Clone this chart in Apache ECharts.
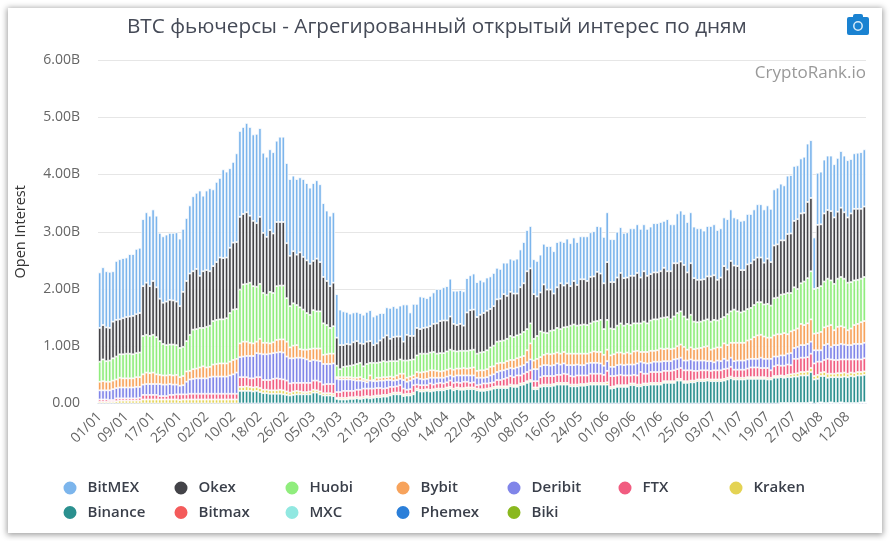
<!DOCTYPE html>
<html>
<head>
<meta charset="utf-8">
<script src="https://cdn.jsdelivr.net/npm/echarts@6/dist/echarts.min.js"></script>
<style>
html, body { margin: 0; padding: 0; background: #fff; width: 890px; height: 541px; overflow: hidden; }
#graph { position: absolute; left: 8px; top: 8px; width: 874px; height: 525px; background: #fff; box-shadow: 0 1px 6px 1px rgba(0,0,0,.38); }
</style>
</head>
<body>
<div id="graph"></div>
<script>
// days in 2020, 01/01 .. 17/08
var monthLengths = [31, 29, 31, 30, 31, 30, 31, 17];

// stack levels, in billions: the top edge of each coloured band per day
var bitmexTop = [
2.29,2.38,2.31,2.30,2.31,2.49,2.52,2.54,2.55,2.61,
2.61,2.70,2.72,3.22,3.34,3.28,3.39,3.28,2.98,2.92,
2.95,2.98,2.98,2.99,2.88,3.05,3.24,3.46,3.62,3.68,
3.72,3.63,3.72,3.76,3.74,3.87,3.94,4.09,4.05,4.11,
4.22,4.37,4.76,4.83,4.90,4.83,4.70,4.71,4.81,4.38,
4.31,4.44,4.39,4.59,4.66,4.66,4.20,3.92,3.98,3.92,
3.95,3.92,3.85,3.77,3.85,3.90,3.83,3.50,3.37,3.28,
3.34,1.91,1.64,1.61,1.60,1.57,1.59,1.60,1.58,1.55,
1.60,1.63,1.52,1.55,1.58,1.58,1.68,1.67,1.70,1.67,
1.71,1.73,1.73,1.59,1.74,1.74,1.87,1.86,1.84,1.88,
1.94,2.00,2.00,2.03,2.05,2.18,1.97,1.97,1.98,1.96,
2.19,2.24,2.27,2.12,2.16,2.13,2.20,2.22,2.28,2.37,
2.35,2.46,2.46,2.53,2.51,2.53,2.69,2.82,3.03,3.10,
2.52,2.49,2.60,2.79,2.75,2.75,2.66,2.82,2.84,2.82,
2.88,2.80,2.90,2.82,2.92,2.92,2.92,2.99,3.01,3.10,
3.09,2.91,3.34,2.87,2.87,3.00,3.08,2.98,2.99,3.06,
3.06,3.13,3.05,3.13,3.05,3.09,3.15,3.15,3.17,3.19,
3.22,3.13,3.13,3.32,3.37,3.31,3.17,3.34,3.09,3.06,
3.06,3.02,3.10,3.10,3.13,3.03,3.06,3.25,3.22,3.39,
3.25,3.23,3.19,3.20,3.31,3.31,3.39,3.48,3.48,3.39,
3.46,3.40,3.74,3.77,3.84,3.81,3.98,3.99,4.15,4.16,
4.28,4.31,4.54,4.60,2.90,4.03,4.05,4.26,4.33,4.33,
4.18,4.29,4.41,4.33,4.25,4.27,4.37,4.38,4.39,4.44];

var okexTop = [
1.32,1.37,1.33,1.32,1.43,1.46,1.47,1.49,1.51,1.52,
1.53,1.56,1.58,2.05,2.11,2.05,2.14,2.03,1.83,1.76,
1.78,1.81,1.80,1.78,1.70,1.95,2.14,2.27,2.31,2.35,
2.23,2.31,2.33,2.31,2.40,2.47,2.55,2.54,2.55,2.72,
2.81,2.82,3.26,3.31,3.34,3.28,3.19,3.15,3.26,2.98,
2.91,3.03,2.97,3.17,3.17,3.17,2.80,2.58,2.66,2.60,
2.64,2.56,2.50,2.44,2.49,2.53,2.47,2.21,2.14,2.05,
2.11,1.15,1.02,1.02,1.04,1.03,1.07,1.09,1.05,1.04,
1.08,1.09,1.02,1.05,1.10,1.15,1.19,1.13,1.16,1.17,
1.17,1.08,1.20,1.18,1.18,1.32,1.30,1.32,1.33,1.35,
1.39,1.40,1.44,1.45,1.45,1.52,1.39,1.37,1.39,1.36,
1.59,1.63,1.64,1.51,1.55,1.58,1.62,1.65,1.70,1.82,
1.83,1.91,1.88,1.95,1.92,1.92,2.03,2.10,2.31,2.36,
1.91,1.87,1.94,2.08,1.99,1.99,1.92,2.03,2.10,2.06,
2.10,2.05,2.14,2.07,2.17,2.17,2.14,2.21,2.22,2.30,
2.27,2.10,2.47,2.12,2.12,2.20,2.28,2.19,2.20,2.23,
2.23,2.28,2.20,2.31,2.23,2.26,2.29,2.29,2.31,2.37,
2.31,2.31,2.45,2.45,2.48,2.42,2.29,2.45,2.19,2.16,
2.16,2.17,2.22,2.22,2.24,2.16,2.20,2.40,2.34,2.49,
2.41,2.40,2.33,2.33,2.43,2.45,2.51,2.55,2.55,2.46,
2.53,2.47,2.76,2.78,2.85,2.85,2.96,2.97,3.19,3.22,
3.32,3.33,3.52,3.59,2.00,3.12,3.13,3.32,3.38,3.36,
3.25,3.35,3.42,3.34,3.25,3.32,3.40,3.40,3.40,3.44];

var huobiTop = [
.73,.77,.74,.75,.79,.82,.86,.86,.87,.87,
.86,.88,.89,1.18,1.20,1.18,1.20,1.16,1.09,1.04,
1.02,1.03,1.03,1.02,.97,.99,1.09,1.20,1.29,1.30,
1.32,1.32,1.34,1.36,1.44,1.46,1.47,1.47,1.49,1.58,
1.64,1.65,1.99,2.08,2.09,2.11,2.05,2.04,2.09,1.93,
1.90,1.95,1.93,2.05,2.06,2.06,1.84,1.70,1.75,1.72,
1.68,1.64,1.58,1.55,1.63,1.61,1.61,1.40,1.37,1.32,
1.35,.66,.60,.64,.65,.66,.67,.69,.71,.65,
.69,.71,.71,.71,.72,.74,.73,.74,.74,.74,
.77,.75,.75,.76,.77,.84,.87,.87,.87,.89,
.90,.87,.88,.88,.91,.94,.92,.91,.92,.92,
.92,.93,.94,.87,.89,.90,.93,.98,1.01,1.08,
1.09,1.10,1.13,1.18,1.16,1.19,1.21,1.25,1.30,1.40,
1.13,1.18,1.26,1.24,1.23,1.27,1.28,1.32,1.30,1.33,
1.34,1.36,1.38,1.36,1.37,1.38,1.37,1.40,1.43,1.44,
1.46,1.30,1.46,1.31,1.30,1.36,1.40,1.36,1.39,1.37,
1.40,1.40,1.40,1.43,1.40,1.45,1.47,1.47,1.49,1.50,
1.51,1.47,1.52,1.58,1.61,1.52,1.47,1.55,1.43,1.42,
1.43,1.45,1.47,1.43,1.46,1.45,1.48,1.51,1.56,1.61,
1.64,1.61,1.59,1.61,1.65,1.67,1.72,1.77,1.77,1.73,
1.74,1.71,1.84,1.85,1.90,1.91,1.93,1.93,2.03,2.00,
2.10,2.13,2.19,2.31,2.00,2.02,2.05,2.13,2.18,2.15,
2.09,2.18,2.21,2.18,2.11,2.12,2.15,2.16,2.18,2.21];

var bybitTop = [
.38,.39,.38,.38,.40,.42,.45,.44,.44,.44,
.44,.46,.46,.51,.54,.53,.54,.51,.50,.49,
.49,.50,.49,.50,.46,.48,.56,.57,.60,.61,
.63,.65,.63,.64,.68,.69,.70,.70,.70,.73,
.76,.78,1.05,1.08,1.08,1.06,1.05,1.08,1.13,1.06,
1.06,1.05,1.07,1.11,1.12,1.12,1.08,.98,1.01,1.02,
.95,.94,.94,.95,.96,.96,.96,.85,.86,.87,
.87,.46,.46,.46,.46,.46,.45,.45,.46,.43,
.41,.49,.41,.45,.45,.46,.46,.47,.46,.49,
.52,.52,.45,.47,.49,.55,.54,.55,.56,.58,
.58,.57,.56,.57,.59,.61,.59,.61,.61,.62,
.61,.62,.63,.57,.58,.58,.60,.64,.65,.70,
.71,.71,.74,.76,.76,.79,.81,.83,.93,1.05,
.75,.78,.81,.85,.87,.86,.87,.89,.87,.90,
.87,.87,.87,.87,.87,.87,.87,.89,.91,.90,
.90,.85,.94,.84,.86,.89,.89,.87,.89,.87,
.91,.92,.90,.90,.90,.92,.92,.93,.96,.95,
.96,.95,.96,1.00,1.03,.99,.94,.98,.95,.96,
.97,.99,1.00,.94,.96,.98,.98,1.05,1.02,1.06,
1.06,1.06,1.06,1.06,1.10,1.12,1.16,1.19,1.20,1.17,
1.15,1.15,1.19,1.21,1.21,1.23,1.21,1.26,1.28,1.31,
1.39,1.37,1.40,1.47,1.22,1.23,1.25,1.33,1.35,1.37,
1.28,1.34,1.35,1.33,1.28,1.31,1.37,1.39,1.42,1.44];

var deribitTop = [
.23,.23,.23,.23,.25,.27,.28,.28,.28,.28,
.28,.29,.29,.33,.34,.34,.34,.34,.34,.33,
.33,.34,.33,.33,.31,.32,.38,.42,.43,.44,
.44,.44,.44,.46,.47,.47,.47,.47,.47,.49,
.51,.54,.81,.82,.83,.83,.83,.88,.87,.86,
.86,.87,.88,.89,.90,.89,.82,.79,.79,.80,
.80,.79,.77,.74,.76,.75,.74,.69,.69,.69,
.70,.43,.42,.42,.42,.42,.41,.40,.40,.39,
.37,.40,.39,.39,.40,.40,.41,.41,.40,.41,
.43,.41,.38,.40,.43,.45,.43,.42,.43,.45,
.45,.45,.45,.45,.47,.49,.47,.49,.49,.49,
.49,.49,.49,.45,.45,.45,.46,.49,.51,.55,
.57,.58,.60,.62,.61,.63,.65,.67,.72,.77,
.60,.60,.65,.67,.67,.66,.67,.70,.68,.70,
.67,.67,.67,.68,.67,.67,.70,.71,.71,.71,
.70,.66,.74,.64,.64,.67,.68,.67,.68,.68,
.68,.70,.73,.71,.70,.71,.73,.73,.73,.74,
.74,.74,.77,.78,.80,.75,.75,.77,.75,.75,
.75,.75,.74,.74,.72,.75,.74,.78,.75,.80,
.74,.75,.75,.75,.77,.78,.78,.78,.80,.78,
.78,.78,.82,.82,.84,.84,.87,.88,.97,.99,
1.02,1.02,1.04,1.08,.93,.93,.93,1.02,1.04,.99,
1.02,1.02,1.04,1.03,1.02,1.02,1.04,1.04,1.04,1.06];

var ftxTop = [
.07,.07,.07,.06,.06,.09,.09,.09,.09,.09,
.09,.09,.10,.15,.15,.15,.15,.15,.13,.13,
.13,.15,.15,.16,.16,.16,.16,.17,.17,.17,
.17,.17,.17,.17,.17,.17,.17,.17,.17,.17,
.17,.17,.46,.46,.46,.44,.44,.46,.46,.41,
.41,.41,.43,.44,.43,.42,.40,.35,.36,.36,
.36,.36,.36,.36,.40,.40,.38,.33,.34,.34,
.34,.20,.20,.22,.22,.22,.22,.24,.24,.26,
.26,.26,.26,.27,.27,.26,.27,.29,.29,.30,
.32,.26,.24,.25,.32,.33,.32,.32,.32,.35,
.33,.35,.36,.35,.37,.40,.36,.37,.36,.38,
.38,.36,.37,.32,.33,.35,.35,.36,.37,.41,
.41,.43,.45,.48,.46,.49,.49,.52,.55,.58,
.39,.39,.46,.48,.48,.48,.48,.50,.50,.52,
.51,.48,.47,.49,.49,.49,.49,.52,.52,.52,
.52,.50,.57,.48,.48,.49,.50,.49,.49,.49,
.50,.49,.55,.52,.52,.55,.55,.55,.55,.57,
.57,.57,.58,.60,.62,.58,.58,.58,.57,.57,
.58,.58,.58,.57,.58,.58,.58,.60,.61,.64,
.59,.59,.59,.59,.61,.63,.63,.63,.62,.62,
.62,.58,.65,.67,.66,.66,.68,.67,.78,.78,
.80,.80,.81,.87,.70,.73,.73,.76,.78,.77,
.76,.76,.77,.77,.77,.77,.77,.77,.77,.79];

var krakenTop = [
.03,.03,.03,.03,.03,.04,.05,.05,.05,.05,
.05,.05,.05,.07,.07,.07,.07,.07,.07,.07,
.07,.07,.07,.07,.06,.07,.07,.07,.07,.07,
.07,.07,.07,.07,.07,.07,.07,.07,.07,.07,
.07,.07,.29,.29,.30,.29,.28,.29,.27,.24,
.24,.23,.23,.23,.24,.23,.21,.19,.21,.22,
.21,.20,.20,.21,.24,.23,.21,.18,.18,.18,
.17,.10,.10,.10,.10,.11,.11,.12,.11,.12,
.13,.12,.13,.14,.14,.15,.15,.17,.19,.19,
.19,.16,.17,.17,.19,.26,.24,.24,.25,.24,
.25,.26,.26,.26,.28,.29,.26,.28,.27,.27,
.28,.28,.28,.26,.25,.25,.26,.27,.29,.30,
.30,.30,.30,.33,.32,.32,.35,.36,.39,.41,
.28,.28,.32,.33,.33,.33,.34,.36,.36,.36,
.36,.33,.33,.33,.34,.34,.35,.36,.36,.36,
.36,.36,.37,.29,.30,.32,.32,.32,.32,.35,
.35,.33,.33,.35,.35,.36,.36,.36,.36,.39,
.39,.39,.39,.43,.43,.39,.39,.40,.40,.42,
.42,.42,.43,.42,.42,.42,.42,.43,.45,.47,
.45,.45,.45,.45,.46,.46,.46,.46,.46,.46,
.45,.45,.48,.48,.49,.48,.50,.51,.52,.53,
.55,.55,.56,.62,.48,.50,.54,.55,.52,.52,
.52,.53,.53,.54,.52,.54,.53,.55,.55,.56];

var binanceTop = [
0,0,0,0,0,0,0,0,0,0,
0,0,0,0,0,0,0,0,0,0,
0,0,0,0,0,0,0,0,0,0,
0,0,0,0,0,0,0,0,0,0,
0,0,.22,.22,.22,.22,.21,.22,.20,.18,
.18,.17,.17,.17,.17,.16,.15,.14,.15,.16,
.16,.16,.16,.16,.19,.19,.16,.14,.14,.14,
.13,.08,.07,.07,.07,.08,.08,.09,.08,.09,
.10,.09,.10,.11,.11,.12,.12,.14,.16,.16,
.16,.13,.14,.14,.16,.23,.21,.21,.22,.21,
.22,.23,.23,.23,.25,.26,.23,.25,.24,.24,
.25,.25,.25,.23,.22,.22,.23,.24,.26,.27,
.27,.27,.27,.30,.29,.29,.32,.33,.36,.38,
.25,.25,.29,.30,.30,.30,.31,.33,.33,.33,
.33,.30,.30,.30,.31,.31,.32,.33,.33,.33,
.33,.33,.33,.26,.27,.29,.29,.29,.29,.32,
.32,.30,.30,.32,.32,.33,.33,.33,.33,.36,
.36,.36,.36,.40,.40,.36,.36,.37,.37,.39,
.39,.39,.40,.39,.39,.39,.39,.40,.42,.44,
.42,.42,.42,.42,.43,.43,.43,.43,.43,.43,
.42,.42,.45,.45,.46,.45,.46,.46,.47,.47,
.49,.49,.49,.55,.42,.43,.48,.48,.45,.46,
.46,.46,.46,.47,.46,.48,.47,.49,.49,.50];

// the small exchanges only show on a few days: [day index, value]
var bitmaxDays = [[204,.008],[205,.008],[206,.008],[207,.008],[208,.008],[209,.008],[210,.008],[211,.008],[212,.008],[213,.008],
  [215,.008],[216,.008],[217,.008],[218,.008],[219,.008],[220,.008],[221,.008],[222,.008],[223,.008],[224,.008],[225,.008],[226,.008],[227,.008],[228,.008],[229,.008]];
var mxcDays = [];
var phemexDays = [[213,.012],[216,.012],[219,.012],[222,.012],[228,.012],[229,.012]];
var bikiDays = [];

var colors = {
  BitMEX: '#7cb5ec', Okex: '#434348', Huobi: '#90ed7d', Bybit: '#f7a35c', Deribit: '#8085e9', FTX: '#f15c80',
  Kraken: '#e4d354', Binance: '#2b908f', Bitmax: '#f45b5b', MXC: '#91e8e1', Phemex: '#2b7fd9', Biki: '#8ab81e'
};
// one legend per column, the reference lines its entries up in a table
var legendColumns = [['BitMEX', 'Binance'], ['Okex', 'Bitmax'], ['Huobi', 'MXC'], ['Bybit', 'Phemex'], ['Deribit', 'Biki'], ['FTX'], ['Kraken']];

var categories = [];
monthLengths.forEach(function (len, m) {
  for (var d = 1; d <= len; d++) {
    categories.push((d < 10 ? '0' : '') + d + '/0' + (m + 1));
  }
});

function sparse(days) {
  var out = categories.map(function () { return null; });
  days.forEach(function (p) { out[p[0]] = p[1]; });
  return out;
}

function band(top, below) {
  return top.map(function (v, i) {
    var d = +(v - below[i]).toFixed(3);
    return d > 0 ? d : null;
  });
}

var bitmaxValues = sparse(bitmaxDays);
var mxcValues = sparse(mxcDays);
var phemexValues = sparse(phemexDays);
var bikiValues = sparse(bikiDays);
var smallTop = categories.map(function (c, i) {
  return (bitmaxValues[i] || 0) + (mxcValues[i] || 0) + (phemexValues[i] || 0) + (bikiValues[i] || 0);
});

// bottom of the stack first
var stackData = [
  ['Biki', bikiValues],
  ['Phemex', phemexValues],
  ['MXC', mxcValues],
  ['Bitmax', bitmaxValues],
  ['Binance', band(binanceTop, smallTop)],
  ['Kraken', band(krakenTop, binanceTop)],
  ['FTX', band(ftxTop, krakenTop)],
  ['Deribit', band(deribitTop, ftxTop)],
  ['Bybit', band(bybitTop, deribitTop)],
  ['Huobi', band(huobiTop, bybitTop)],
  ['Okex', band(okexTop, huobiTop)],
  ['BitMEX', band(bitmexTop, okexTop)]
];

var fontName = '"Open Sans", sans-serif';
var myChart = echarts.init(document.getElementById('graph'));

var option = {
  animation: false,
  title: {
    text: 'BTC фьючерсы - Агрегированный открытый интерес по дням',
    left: 114,
    top: 4,
    textStyle: { fontFamily: fontName, fontSize: 20.7, fontWeight: 'normal', color: '#454a57' }
  },
  grid: { left: 90, right: 16, top: 52, bottom: 129.5, outerBoundsMode: 'none' },
  legend: legendColumns.map(function (col, k) {
    return {
      data: col,
      orient: 'vertical',
      left: 53.5 + 111 * k,
      top: 471.5,
      icon: 'circle',
      itemWidth: 15,
      itemHeight: 15,
      itemGap: 7.5,
      padding: 0,
      textStyle: { fontFamily: fontName, fontSize: 15, fontWeight: 600, color: '#3a3f4a', padding: [0, 0, 0, 5] }
    };
  }),
  xAxis: {
    type: 'category',
    data: categories,
    axisLine: { lineStyle: { color: '#ccd6eb' } },
    axisTick: { show: false },
    axisLabel: { interval: 7, rotate: 45, margin: 11, color: '#666', fontSize: 14, fontFamily: fontName }
  },
  yAxis: {
    type: 'value',
    min: 0,
    max: 6,
    interval: 1,
    name: 'Open Interest',
    nameLocation: 'middle',
    nameRotate: 90,
    nameGap: 70,
    nameTextStyle: { color: '#333', fontSize: 14.5, fontFamily: fontName },
    axisLabel: {
      margin: 18,
      color: '#666',
      fontSize: 14,
      fontFamily: fontName,
      formatter: function (v) { return v === 0 ? '0.00' : v.toFixed(2) + 'B'; }
    },
    splitLine: { lineStyle: { color: '#e6e6e6' } }
  },
  graphic: [
    {
      type: 'text',
      right: 16,
      top: 57,
      style: { text: 'CryptoRank.io', fill: '#999', fontSize: 17, fontFamily: fontName }
    },
    { type: 'rect', shape: { x: 839, y: 9, width: 22, height: 18, r: 2 }, style: { fill: '#1a82d1' } },
    { type: 'rect', shape: { x: 845, y: 6, width: 10, height: 5, r: 2 }, style: { fill: '#1a82d1' } },
    { type: 'circle', shape: { cx: 850, cy: 18, r: 4.2 }, style: { fill: 'none', stroke: '#d8ecfa', lineWidth: 1.5 } }
  ],
  series: stackData.map(function (s) {
    return {
      name: s[0],
      type: 'bar',
      stack: 'oi',
      barWidth: '100%',
      data: s[1],
      itemStyle: { color: colors[s[0]], borderColor: '#fff', borderWidth: 0.8 }
    };
  })
};

myChart.setOption(option);
</script>
</body>
</html>
